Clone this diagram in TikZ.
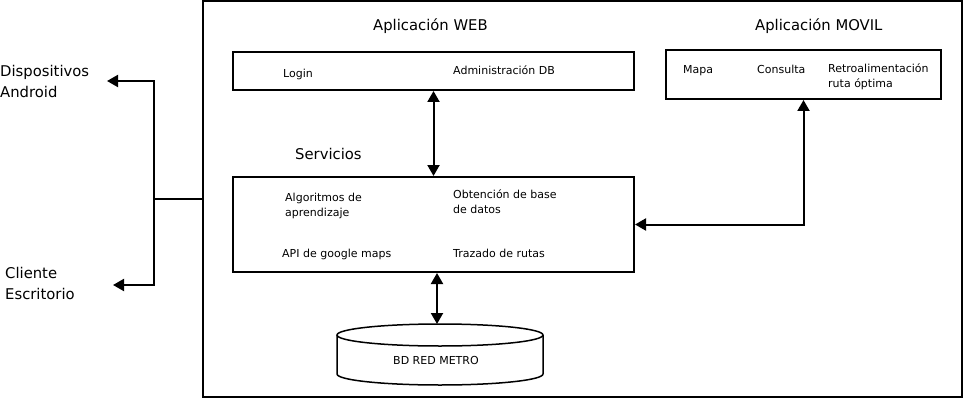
\documentclass[tikz,border=0pt]{standalone}
\usepackage{fontspec}
\setmainfont{DejaVu Sans}
\usetikzlibrary{arrows.meta,calc}
\begin{document}
\begin{tikzpicture}[x=1pt,y=-1pt,
  box/.style={draw,line width=2pt,rectangle,inner sep=0pt},
  big/.style={font=\fontsize{14.8}{21}\selectfont,anchor=base west,inner sep=0pt,align=left},
  small/.style={font=\fontsize{11}{15}\selectfont,anchor=base west,inner sep=0pt,align=left},
  conn/.style={line width=2pt},
  tip/.style={-{Triangle[length=11pt,width=12pt]}},
  tips/.style={{Triangle[length=11pt,width=12pt]}-{Triangle[length=11pt,width=12pt]}}]
\useasboundingbox (0,0) rectangle (965,401);
% boxes
\node[box,minimum width=759pt,minimum height=396pt] (outer) at (582.5,199) {};
\node[box,minimum width=401pt,minimum height=38pt] (web) at (433.5,71) {};
\node[box,minimum width=401pt,minimum height=95pt] (serv) at (433.5,224.5) {};
\node[box,minimum width=275pt,minimum height=49pt] (movil) at (803.5,74.5) {};
% database cylinder
\draw[line width=1.5pt] (440,335) ellipse [x radius=103pt, y radius=11pt];
\draw[line width=1.5pt] (337,335) -- (337,374) arc[start angle=180,end angle=360,x radius=103pt,y radius=11pt] -- (543,335);
\coordinate (dbtop) at (437,324);
\node[small] (db) at (393,364) {BD RED METRO};
% texts
\node[big] (tweb) at (373,31) {Aplicación WEB};
\node[big] (tmovil) at (755,31) {Aplicación MOVIL};
\node[big] (tserv) at (295,159.3) {Servicios};
\node[small] (login) at (283,77.3) {Login};
\node[small] (admin) at (453,75) {Administración DB};
\node[small] (algo) at (285,216.7) {Algoritmos de\\aprendizaje};
\node[small] (obt) at (453,213.3) {Obtención de base\\de datos};
\node[small] (api) at (282,257) {API de google maps};
\node[small] (traz) at (453,257) {Trazado de rutas};
\node[small] (mapa) at (683,73.3) {Mapa};
\node[small] (cons) at (757,73.3) {Consulta};
\node[small] (retro) at (828,88) {Retroalimentación\\ruta óptima};
\node[big] (disp) at (0,97.3) {Dispositivos\\Android};
\node[big] (cli) at (5,299) {Cliente\\Escritorio};
% connectors
\draw[conn,tips] (web.south) -- (serv.north);
\draw[conn,tips] ([xshift=3.5pt]serv.south) -- (dbtop);
\draw[conn,tips] (serv.east) -| (movil.south);
\coordinate (junc) at (154,199);
\coordinate (tipA) at (107,81);
\coordinate (tipB) at (113,285);
\draw[conn] (outer.west) -- (junc);
\draw[conn,tip] (junc) |- (tipA);
\draw[conn,tip] (junc) |- (tipB);
\end{tikzpicture}
\end{document}
